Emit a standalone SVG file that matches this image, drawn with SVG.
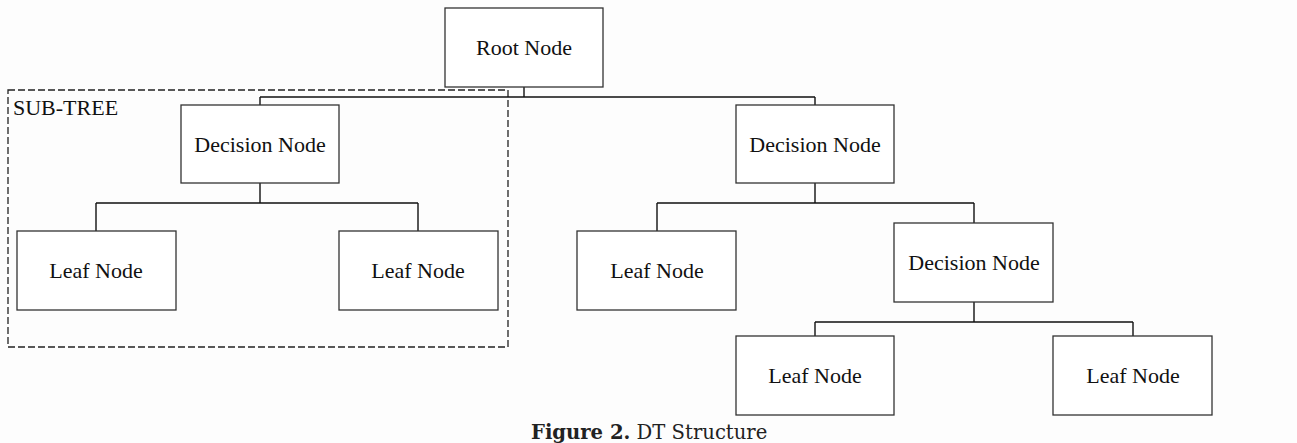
<svg xmlns="http://www.w3.org/2000/svg" width="1297" height="443" viewBox="0 0 1297 443">
<style>
.box{fill:#ffffff;stroke:#333333;stroke-width:1.3}
.lbl{font-family:"Liberation Serif","Times New Roman",serif;font-size:22px;fill:#111111;text-anchor:middle}
.conn{fill:none;stroke:#111111;stroke-width:1.4}
.cap{font-family:"DejaVu Serif",serif;font-size:19.6px;fill:#222222}
</style>
<rect x="0" y="0" width="1297" height="443" fill="#fdfdfd"/>
<g id="subtree">
<rect x="8" y="90" width="500" height="257" fill="none" stroke="#222222" stroke-width="1.3" stroke-dasharray="7,3"/>
<text x="13" y="115" font-family="Liberation Serif,serif" font-size="22" fill="#111111">SUB-TREE</text>
</g>
<g id="connectors">
<path class="conn" d="M524 87V97M260 97H815M260 97V105M815 97V105"/>
<path class="conn" d="M260 183V203M96 203H418M96 203V231M418 203V231"/>
<path class="conn" d="M815 183V203M657 203H974M657 203V231M974 203V223"/>
<path class="conn" d="M974 302V322M815 322H1133M815 322V336M1133 322V336"/>
</g>
<g id="root"><rect class="box" x="445" y="8" width="158" height="79"/><text class="lbl" x="524" y="55">Root Node</text></g>
<g id="decision1"><rect class="box" x="181" y="105" width="158" height="78"/><text class="lbl" x="260" y="152">Decision Node</text></g>
<g id="decision2"><rect class="box" x="736" y="105" width="158" height="78"/><text class="lbl" x="815" y="152">Decision Node</text></g>
<g id="leaf1"><rect class="box" x="17" y="231" width="159" height="79"/><text class="lbl" x="96" y="278">Leaf Node</text></g>
<g id="leaf2"><rect class="box" x="339" y="231" width="159" height="79"/><text class="lbl" x="418" y="278">Leaf Node</text></g>
<g id="leaf3"><rect class="box" x="577" y="231" width="159" height="79"/><text class="lbl" x="657" y="278">Leaf Node</text></g>
<g id="decision3"><rect class="box" x="894" y="223" width="159" height="79"/><text class="lbl" x="974" y="270">Decision Node</text></g>
<g id="leaf4"><rect class="box" x="736" y="336" width="158" height="79"/><text class="lbl" x="815" y="383">Leaf Node</text></g>
<g id="leaf5"><rect class="box" x="1053" y="336" width="159" height="79"/><text class="lbl" x="1133" y="383">Leaf Node</text></g>
<text class="cap" x="531" y="439"><tspan font-weight="bold">Figure 2.</tspan> DT Structure</text>
</svg>
